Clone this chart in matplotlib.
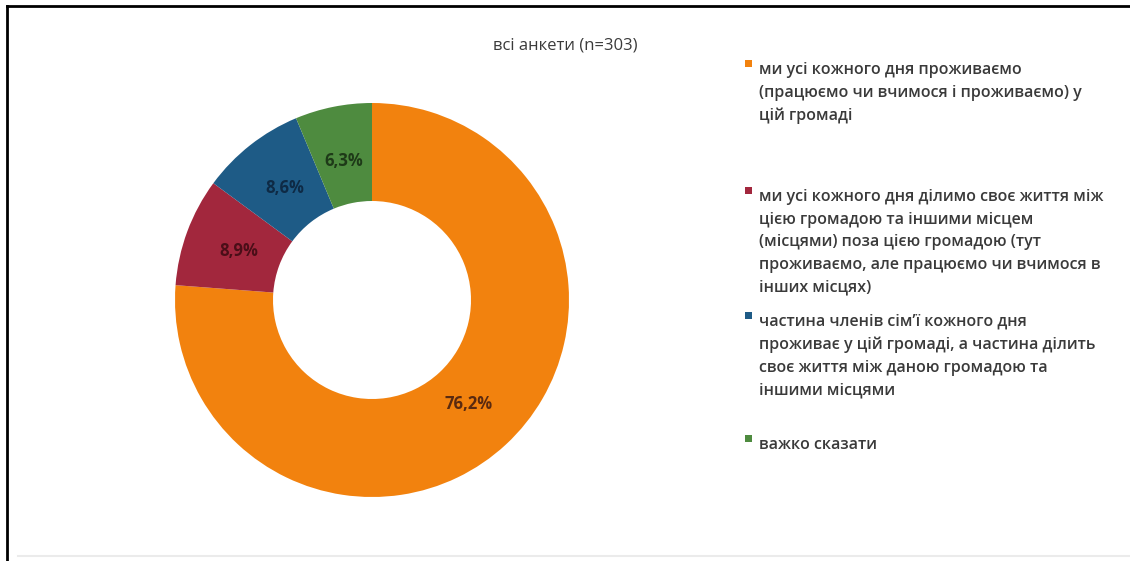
import matplotlib.pyplot as plt
from matplotlib.patches import Rectangle

plt.rcParams['font.family'] = ['Open Sans', 'DejaVu Sans']

title = 'всі анкети (n=303)'
categories = [
    'ми усі кожного дня проживаємо\n(працюємо чи вчимося і проживаємо) у\nцій громаді',
    'ми усі кожного дня ділимо своє життя між\nцією громадою та іншими місцем\n(місцями) поза цією громадою (тут\nпроживаємо, але працюємо чи вчимося в\nінших місцях)',
    'частина членів сім\u02bcї кожного дня\nпроживає у цій громаді, а частина ділить\nсвоє життя між даною громадою та\nіншими місцями',
    'важко сказати',
]
shares = [76.2, 8.9, 8.6, 6.3]
colors = ['#F2820E', '#A2273D', '#1E5B86', '#4E8B3F']
label_colors = ['#5A2A10', '#4A0E18', '#0E2A45', '#1E3A18']

W, H = 1130, 561
fig = plt.figure(figsize=(W / 100, H / 100), dpi=100)
ax = fig.add_axes([0, 0, 1, 1])

# donut, clockwise from 12 o'clock
wedges, _, pcts = ax.pie(
    shares, colors=colors, startangle=90, counterclock=False,
    center=(372, H - 300), radius=197,
    wedgeprops=dict(width=98, linewidth=0),
    autopct=lambda p: f'{p:.1f}%'.replace('.', ','), pctdistance=0.72,
)
for t, c in zip(pcts, label_colors):
    t.set_color(c)
    t.set_fontsize(12)
    t.set_fontweight('bold')

ax.set_xlim(0, W)
ax.set_ylim(0, H)
ax.set_aspect('equal')
ax.axis('off')

ax.text(565, H - 45, title, ha='center', va='center', fontsize=12, color='#3A3A3A')

# legend drawn by hand: small square + wrapped text
legend_rows = [70, 197, 322, 445]
for cat, col, y in zip(categories, colors, legend_rows):
    ax.add_patch(Rectangle((745, H - y + 3), 7, 7, color=col, lw=0))
    ax.text(759, H - y + 8, cat, ha='left', va='top', fontsize=11.5,
            fontweight='semibold', color='#3A3A3A', linespacing=1.55)

# outer frame: top and left edges only, faint bottom line
ax.plot([7, W], [H - 6, H - 6], color='black', lw=2)
ax.plot([7, 7], [H - 6, 0], color='black', lw=2)
ax.plot([18, W], [H - 556, H - 556], color='#EBEBEB', lw=1.5)

fig.savefig('out.png', dpi=100)
